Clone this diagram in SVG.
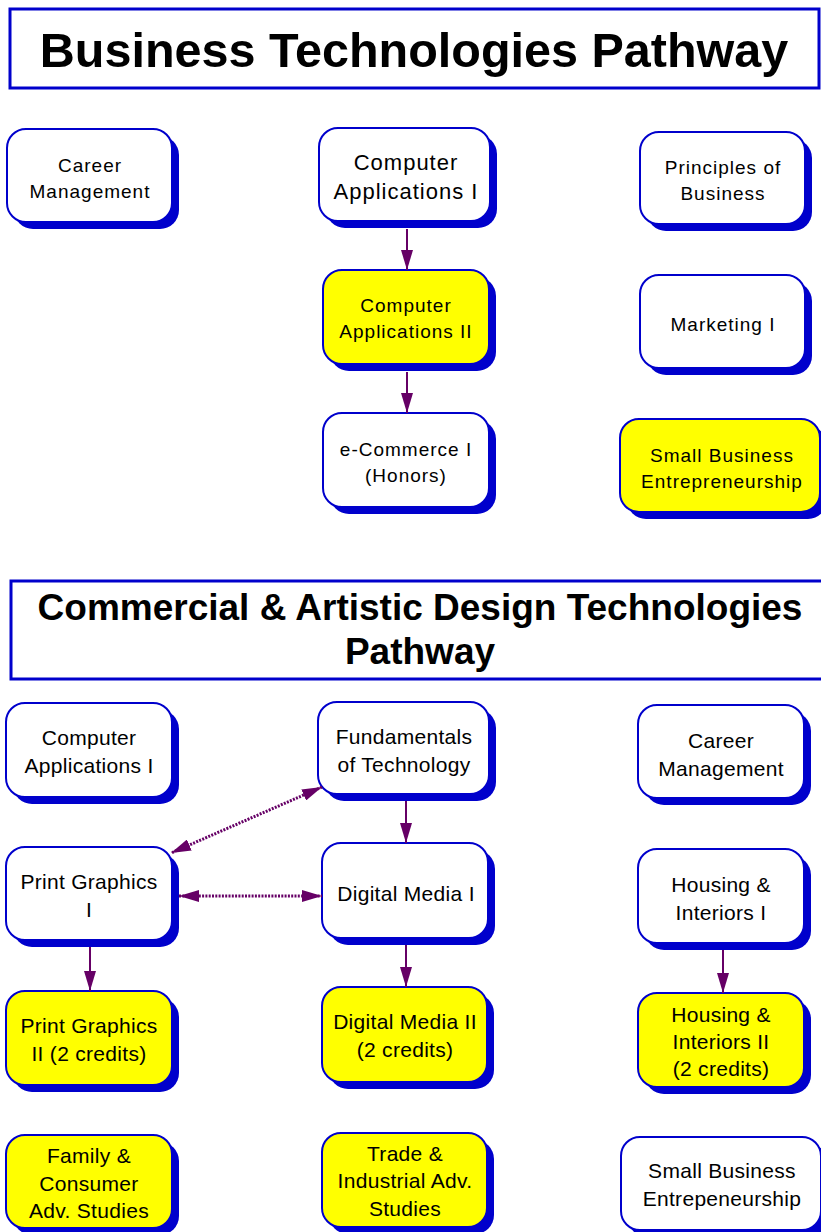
<svg xmlns="http://www.w3.org/2000/svg" width="821" height="1232" viewBox="0 0 821 1232">
<style>
.title{fill:#fff;stroke:#0000cc;stroke-width:3}
.tt{font-family:"Liberation Sans",Arial,sans-serif;font-weight:bold;fill:#000;text-anchor:middle}
.sh{fill:#0000cc}
.box{fill:#fff;stroke:#0000cc;stroke-width:2}
.yel{fill:#ffff00;stroke:#0000cc;stroke-width:2}
.t{font-family:"Liberation Sans",Arial,sans-serif;fill:#000;text-anchor:middle}
.top{font-size:19px;letter-spacing:1px}
.bot{font-size:21px;letter-spacing:0.3px}
.ar{stroke:#660066;stroke-width:2;fill:none}
.dot{stroke:#660066;stroke-width:3;stroke-dasharray:2 1.3;fill:none}
</style>
<defs>
<marker id="ah" markerUnits="userSpaceOnUse" markerWidth="20" markerHeight="12" refX="20" refY="6" orient="auto-start-reverse">
<path d="M0,0 L20,6 L0,12 z" fill="#660066"/>
</marker>
</defs>
<rect width="821" height="1232" fill="#fff"/>

<g id="title1">
<rect class="title" x="10" y="9" width="809" height="79"/>
<text class="tt" x="414" y="67" font-size="48.5">Business Technologies Pathway</text>
</g>

<g id="career1">
<rect class="sh" x="14" y="136" width="165" height="93" rx="19"/>
<rect class="box" x="7" y="129" width="165" height="93" rx="19"/>
<text class="t top" x="90" y="172" font-size="20px">Career</text>
<text class="t top" x="90" y="198" font-size="20px">Management</text>
</g>

<g id="compapp1">
<rect class="sh" x="326" y="135" width="171" height="93" rx="19"/>
<rect class="box" x="319" y="128" width="171" height="93" rx="19"/>
<text class="t" x="406" y="170" font-size="22" letter-spacing="1">Computer</text>
<text class="t" x="406" y="199" font-size="22" letter-spacing="1">Applications I</text>
</g>

<g id="principles">
<rect class="sh" x="647" y="139" width="165" height="92" rx="19"/>
<rect class="box" x="640" y="132" width="165" height="92" rx="19"/>
<text class="t top" x="723" y="174">Principles of</text>
<text class="t top" x="723" y="200">Business</text>
</g>

<g id="compapp2">
<rect class="sh" x="330" y="277" width="166" height="94" rx="19"/>
<rect class="yel" x="323" y="270" width="166" height="94" rx="19"/>
<text class="t top" x="406" y="312">Computer</text>
<text class="t top" x="406" y="338">Applications II</text>
</g>

<g id="marketing">
<rect class="sh" x="647" y="282" width="165" height="93" rx="19"/>
<rect class="box" x="640" y="275" width="165" height="93" rx="19"/>
<text class="t top" x="723" y="331">Marketing I</text>
</g>

<g id="ecommerce">
<rect class="sh" x="330" y="420" width="166" height="94" rx="19"/>
<rect class="box" x="323" y="413" width="166" height="94" rx="19"/>
<text class="t top" x="406" y="456">e-Commerce I</text>
<text class="t top" x="406" y="482">(Honors)</text>
</g>

<g id="smallbiz1">
<rect class="sh" x="627" y="426" width="200" height="93" rx="19"/>
<rect class="yel" x="620" y="419" width="200" height="93" rx="19"/>
<text class="t top" x="722" y="462">Small Business</text>
<text class="t top" x="722" y="488">Entrepreneurship</text>
</g>

<g id="title2">
<rect class="title" x="11" y="581" width="830" height="98"/>
<text class="tt" x="420" y="620" font-size="37">Commercial &amp; Artistic Design Technologies</text>
<text class="tt" x="420" y="664" font-size="37">Pathway</text>
</g>

<g id="compapp1b">
<rect class="sh" x="13" y="710" width="166" height="94" rx="19"/>
<rect class="box" x="6" y="703" width="166" height="94" rx="19"/>
<text class="t bot" x="89" y="745">Computer</text>
<text class="t bot" x="89" y="773">Applications I</text>
</g>

<g id="fundamentals">
<rect class="sh" x="325" y="709" width="171" height="92" rx="19"/>
<rect class="box" x="318" y="702" width="171" height="92" rx="19"/>
<text class="t bot" x="404" y="744">Fundamentals</text>
<text class="t bot" x="404" y="772">of Technology</text>
</g>

<g id="career2">
<rect class="sh" x="645" y="712" width="166" height="93" rx="19"/>
<rect class="box" x="638" y="705" width="166" height="93" rx="19"/>
<text class="t bot" x="721" y="748">Career</text>
<text class="t bot" x="721" y="776">Management</text>
</g>

<g id="print1">
<rect class="sh" x="13" y="854" width="166" height="93" rx="19"/>
<rect class="box" x="6" y="847" width="166" height="93" rx="19"/>
<text class="t bot" x="89" y="889">Print Graphics</text>
<text class="t bot" x="89" y="917">I</text>
</g>

<g id="digital1">
<rect class="sh" x="329" y="850" width="166" height="95" rx="19"/>
<rect class="box" x="322" y="843" width="166" height="95" rx="19"/>
<text class="t bot" x="406" y="901">Digital Media I</text>
</g>

<g id="housing1">
<rect class="sh" x="645" y="856" width="166" height="94" rx="19"/>
<rect class="box" x="638" y="849" width="166" height="94" rx="19"/>
<text class="t bot" x="721" y="892">Housing &amp;</text>
<text class="t bot" x="721" y="920">Interiors I</text>
</g>

<g id="print2">
<rect class="sh" x="13" y="998" width="166" height="94" rx="19"/>
<rect class="yel" x="6" y="991" width="166" height="94" rx="19"/>
<text class="t bot" x="89" y="1033">Print Graphics</text>
<text class="t bot" x="89" y="1061">II (2 credits)</text>
</g>

<g id="digital2">
<rect class="sh" x="329" y="994" width="165" height="95" rx="19"/>
<rect class="yel" x="322" y="987" width="165" height="95" rx="19"/>
<text class="t bot" x="405" y="1029">Digital Media II</text>
<text class="t bot" x="405" y="1057">(2 credits)</text>
</g>

<g id="housing2">
<rect class="sh" x="645" y="1000" width="166" height="94" rx="19"/>
<rect class="yel" x="638" y="993" width="166" height="94" rx="19"/>
<text class="t bot" x="721" y="1022">Housing &amp;</text>
<text class="t bot" x="721" y="1049">Interiors II</text>
<text class="t bot" x="721" y="1076">(2 credits)</text>
</g>

<g id="family">
<rect class="sh" x="13" y="1142" width="166" height="93" rx="19"/>
<rect class="yel" x="6" y="1135" width="166" height="93" rx="19"/>
<text class="t bot" x="89" y="1163">Family &amp;</text>
<text class="t bot" x="89" y="1191">Consumer</text>
<text class="t bot" x="89" y="1218">Adv. Studies</text>
</g>

<g id="trade">
<rect class="sh" x="329" y="1140" width="165" height="94" rx="19"/>
<rect class="yel" x="322" y="1133" width="165" height="94" rx="19"/>
<text class="t bot" x="405" y="1161">Trade &amp;</text>
<text class="t bot" x="405" y="1188">Industrial Adv.</text>
<text class="t bot" x="405" y="1216">Studies</text>
</g>

<g id="smallbiz2">
<rect class="sh" x="628" y="1144" width="200" height="93" rx="19"/>
<rect class="box" x="621" y="1137" width="200" height="93" rx="19"/>
<text class="t bot" x="722" y="1178">Small Business</text>
<text class="t bot" x="722" y="1206">Entrepeneurship</text>
</g>

<g id="connectors">
<line class="ar" x1="407" y1="229" x2="407" y2="270" marker-end="url(#ah)"/>
<line class="ar" x1="407" y1="372" x2="407" y2="413" marker-end="url(#ah)"/>
<line class="ar" x1="406" y1="801" x2="406" y2="843" marker-end="url(#ah)"/>
<line class="ar" x1="90" y1="947" x2="90" y2="991" marker-end="url(#ah)"/>
<line class="ar" x1="406" y1="945" x2="406" y2="987" marker-end="url(#ah)"/>
<line class="ar" x1="723" y1="950" x2="723" y2="993" marker-end="url(#ah)"/>
<line class="dot" x1="322" y1="787" x2="171" y2="853" marker-start="url(#ah)" marker-end="url(#ah)"/>
<line class="dot" x1="179" y1="896" x2="322" y2="896" marker-start="url(#ah)" marker-end="url(#ah)"/>
</g>
</svg>
